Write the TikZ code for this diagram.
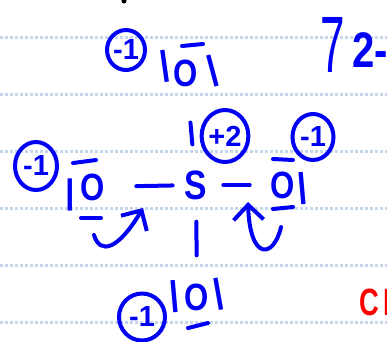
\documentclass[tikz,border=0pt]{standalone}
\usepackage{fontspec}
\setmainfont{Liberation Sans}
\usepackage{tikz}
\usetikzlibrary{arrows.meta,shapes.geometric}
\definecolor{inkblue}{RGB}{0,0,245}
\definecolor{rulecol}{RGB}{196,214,234}

\begin{document}
\begin{tikzpicture}[
x=1pt, y=-1pt,
ink/.style={draw=inkblue, line width=4pt, line cap=round, line join=round},
ruling/.style={draw=rulecol, line width=3pt, dash pattern=on 3pt off 2pt},
charge/.style={ellipse, draw=inkblue, line width=4pt, inner sep=0pt, text=inkblue, font=\fontsize{29}{29}\bfseries\selectfont},
atom/.style={text=inkblue, inner sep=0pt, font=\fontsize{38}{38}\bfseries\selectfont, xscale=.82, transform shape},
stick/.style={text=inkblue, inner sep=0pt, font=\fontsize{34}{34}\bfseries\selectfont},
bond/.style={ink},
curl/.style={ink, -{Straight Barb[length=15pt,width=30pt,line width=4pt]}}
]
\useasboundingbox (0,0) rectangle (387,341);
\clip (0,0) rectangle (387,341);
\foreach \y in {37,94.5,151,208.5,265.5,322.5}
  \draw[ruling] (0,\y) -- (387,\y);
\fill[black] (124,1) circle (2.5pt);

% atoms
\node[atom, font=\fontsize{41}{41}\bfseries\selectfont] (sulfur) at (196,185) {S};
\node[atom] (oxtop) at (186,73) {O};
\node[atom] (oxleft) at (93,187) {O};
\node[atom] (oxright) at (283,185) {O};
\node[atom] (oxbot) at (197,297) {O};

% lone pairs
\node[stick, rotate=8] (ltop) at (165,66) {|};
\node[stick, rotate=15] (rtop) at (213,71) {|};
\node[stick] (lleft) at (70,194.5) {|};
\node[stick, rotate=5] (rright) at (302.5,188.5) {|};
\node[stick, rotate=5] (lbot) at (174.5,297) {|};
\node[stick, rotate=10] (rbot) at (219,294) {|};
\draw[ink] (182,46) -- (203,44);
\draw[ink] (73,163) -- (96,160);
\draw[ink] (81,218) -- (101,218);
\draw[ink] (273,159) -- (293,160);
\draw[ink] (273,209) -- (293,207);
\draw[ink] (188,328) -- (208,323);

% charges
\node[charge, minimum width=38pt, minimum height=40pt] (chtop) at (126,50) {-1};
\node[charge, minimum width=42pt, minimum height=48pt] (chleft) at (36,166) {-1};
\node[charge, minimum width=43pt, minimum height=52pt] (chsulfur) at (225,136) {+2};
\node[charge, minimum width=41pt, minimum height=46pt] (chright) at (313,137) {-1};
\node[charge, minimum width=46pt, minimum height=47pt] (chbot) at (142,317) {-1};

% bonds
\draw[bond, shorten <=31pt, shorten >=12pt] (oxleft) -- (sulfur);
\draw[bond, shorten <=16pt, shorten >=21pt] (sulfur) -- (oxright);
\draw[bond, shorten <=22pt, shorten >=28pt] (sulfur) -- (oxbot);
\draw[bond, shorten <=26pt, shorten >=36pt] (sulfur) -- (oxtop);

% electron shifts
\coordinate (pairleft) at (94,235);
\coordinate (bondleft) at (143,208);
\coordinate (pairright) at (281,227);
\coordinate (bondright) at (248,202);
\draw[curl] (pairleft) .. controls (100,255) and (118,250) .. (bondleft);
\draw[curl] (pairright) .. controls (274,258) and (250,262) .. (bondright);

% top right
\node[text=inkblue, inner sep=0pt, anchor=base west, font=\fontsize{80}{80}\selectfont, xscale=.55, transform shape] (seven) at (320,72) {7};
\node[text=inkblue, inner sep=0pt, anchor=base west, font=\fontsize{50}{50}\bfseries\selectfont, xscale=.8, transform shape] (tail) at (352,67) {2-};
\node[text=red, inner sep=0pt, anchor=base west, font=\fontsize{38}{38}\bfseries\selectfont, xscale=.72, transform shape] (redtext) at (359,315) {C\hspace{6pt}I};
\end{tikzpicture}
\end{document}
